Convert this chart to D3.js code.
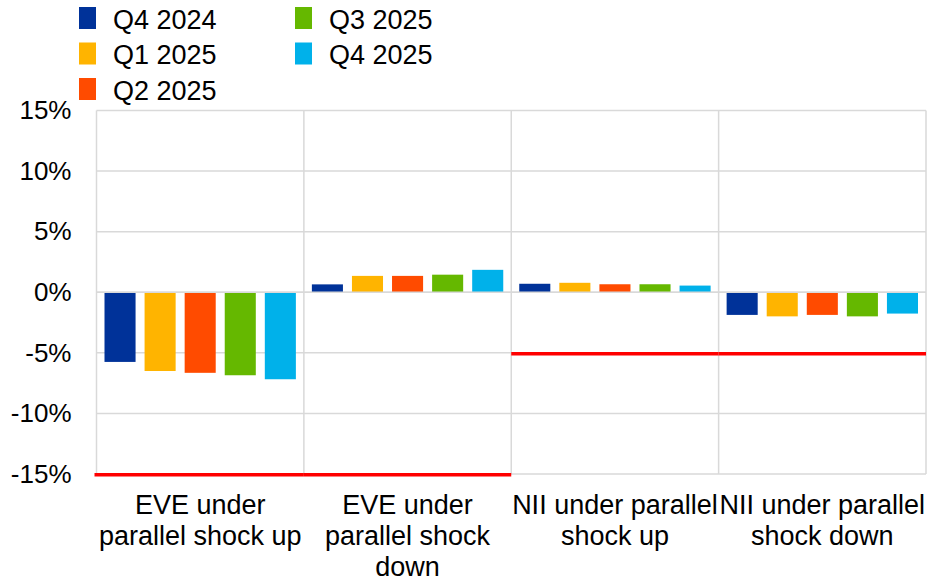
<!DOCTYPE html>
<html>
<head>
<meta charset="utf-8">
<script src="https://cdn.jsdelivr.net/npm/d3@7"></script>
<style>
  html, body { margin: 0; padding: 0; background: #fff; }
  svg { display: block; font-family: "Liberation Sans", Arial, sans-serif; }
</style>
</head>
<body>
<svg id="chart" width="929" height="583"></svg>
<script>
// Interest rate risk shocks: change as % of the base, by quarter
const categories = [
  "EVE under parallel shock up",
  "EVE under parallel shock down",
  "NII under parallel shock up",
  "NII under parallel shock down"
];
const categoryLines = [
  ["EVE under", "parallel shock up"],
  ["EVE under", "parallel shock", "down"],
  ["NII under parallel", "shock up"],
  ["NII under parallel", "shock down"]
];
const seriesNames = ["Q4 2024", "Q1 2025", "Q2 2025", "Q3 2025", "Q4 2025"];
const seriesColors = ["#003299", "#FFB400", "#FF4B00", "#65B800", "#00B1EA"];
const q4_2024 = [-5.75, 0.65, 0.70, -1.87];
const q1_2025 = [-6.50, 1.35, 0.78, -1.99];
const q2_2025 = [-6.65, 1.35, 0.66, -1.87];
const q3_2025 = [-6.85, 1.45, 0.66, -1.99];
const q4_2025 = [-7.18, 1.85, 0.55, -1.76];
const seriesValues = [q4_2024, q1_2025, q2_2025, q3_2025, q4_2025];
// supervisory outlier thresholds per category
const thresholds = [-15, -15, -5, -5];
const yTicks = [-15, -10, -5, 0, 5, 10, 15];

const svg = d3.select("#chart");
const plot = { left: 96.5, right: 926, top: 110.5, bottom: 474 };

const x = d3.scaleBand().domain(categories).range([plot.left, plot.right]).padding(0);
const xs = d3.scaleBand().domain(seriesNames)
  .range([8, x.bandwidth() - 8]).paddingInner(0.225).paddingOuter(0);
const y = d3.scaleLinear().domain([-15, 15]).range([plot.bottom, plot.top]);

const grid = "#d9d9d9";

// horizontal gridlines
svg.append("g").selectAll("line").data(yTicks).join("line")
  .attr("x1", plot.left).attr("x2", plot.right)
  .attr("y1", d => y(d)).attr("y2", d => y(d))
  .attr("stroke", grid).attr("stroke-width", 1.5);

// category separators and frame
const edges = categories.map(c => x(c)).concat([plot.right]);
svg.append("g").selectAll("line").data(edges).join("line")
  .attr("x1", d => d).attr("x2", d => d)
  .attr("y1", plot.top).attr("y2", plot.bottom)
  .attr("stroke", grid).attr("stroke-width", 1.5);

// y axis
const yAxis = d3.axisLeft(y).tickValues(yTicks).tickSize(0).tickPadding(25)
  .tickFormat(d => d + "%");
const yg = svg.append("g").attr("transform", `translate(${plot.left},0)`).call(yAxis);
yg.select(".domain").remove();
yg.selectAll("text").attr("font-size", 26).attr("fill", "#000")
  .attr("font-family", "Liberation Sans, Arial, sans-serif");

// bars
seriesNames.forEach((s, i) => {
  svg.append("g").selectAll("rect").data(seriesValues[i]).join("rect")
    .attr("x", (d, j) => x(categories[j]) + xs(s))
    .attr("width", xs.bandwidth())
    .attr("y", d => y(Math.max(0, d)))
    .attr("height", d => Math.abs(y(d) - y(0)))
    .attr("fill", seriesColors[i]);
});

// zero line on top of bars
svg.append("line")
  .attr("x1", plot.left).attr("x2", plot.right)
  .attr("y1", y(0)).attr("y2", y(0))
  .attr("stroke", grid).attr("stroke-width", 1.5);

// threshold lines
svg.append("g").selectAll("line").data(thresholds).join("line")
  .attr("x1", (d, j) => x(categories[j]) - (j === 0 ? 2 : 0))
  .attr("x2", (d, j) => x(categories[j]) + x.bandwidth())
  .attr("y1", d => y(d) + 0.8).attr("y2", d => y(d) + 0.8)
  .attr("stroke", "#FF0000").attr("stroke-width", 3.5);

// category labels
const lab = svg.append("g").attr("font-size", 27).attr("fill", "#000").attr("text-anchor", "middle");
categoryLines.forEach((lines, j) => {
  const t = lab.append("text")
    .attr("x", x(categories[j]) + x.bandwidth() / 2)
    .attr("y", 514);
  lines.forEach((ln, k) => {
    t.append("tspan")
      .attr("x", x(categories[j]) + x.bandwidth() / 2)
      .attr("y", 514 + k * 31)
      .text(ln);
  });
});

// legend
const legendPos = [
  { mx: 79, row: 0 }, { mx: 79, row: 1 }, { mx: 79, row: 2 },
  { mx: 295, row: 0 }, { mx: 295, row: 1 }
];
const leg = svg.append("g");
seriesNames.forEach((s, i) => {
  const p = legendPos[i];
  const top = 7 + p.row * 35.5;
  leg.append("rect")
    .attr("x", p.mx).attr("y", top)
    .attr("width", 17).attr("height", 22)
    .attr("fill", seriesColors[i]);
  leg.append("text")
    .attr("x", p.mx + 34).attr("y", top + 21.5)
    .attr("font-size", 27).attr("fill", "#000")
    .text(s);
});
</script>
</body>
</html>
